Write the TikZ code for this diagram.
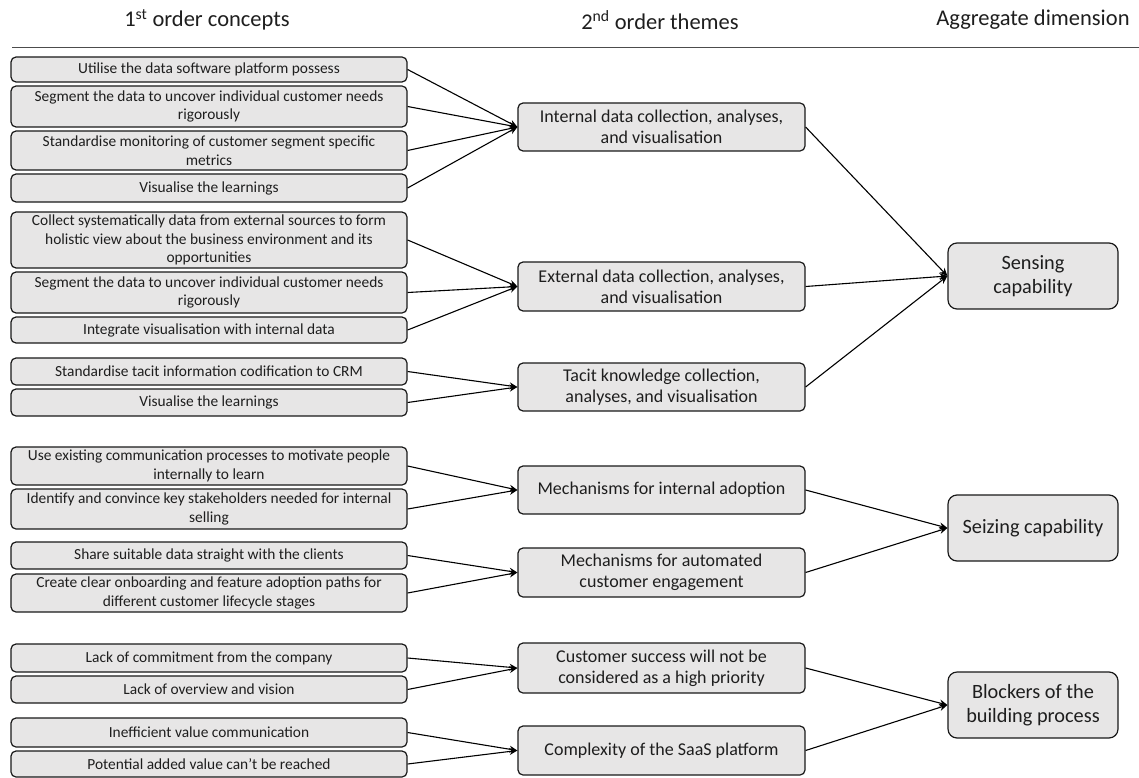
\documentclass[tikz,border=0pt]{standalone}
\usepackage{fontspec}
\setmainfont{Carlito}
\usetikzlibrary{arrows.meta}
\definecolor{boxfill}{HTML}{E7E6E6}
\definecolor{ink}{HTML}{1E1E1E}
\begin{document}
\begin{tikzpicture}[x=1pt,y=-1pt,
  base/.style={draw=black!90, line width=1.2pt, fill=boxfill, text=ink,
    align=center, inner sep=0pt, rounded corners=5pt},
  cbox/.style={base, minimum width=396pt, font=\fontsize{15.4}{18.5}\selectfont},
  tbox/.style={base, minimum width=287pt, font=\fontsize{18}{21}\selectfont},
  dbox/.style={base, minimum width=170pt, rounded corners=9pt,
    font=\fontsize{20.3}{23.5}\selectfont},
  head/.style={font=\fontsize{22.5}{25}\selectfont, text=ink},
  link/.style={line width=1.1pt, -{Stealth[length=8pt,width=7pt]}}]

\useasboundingbox (0,0) rectangle (1139,778);

% column headings and rule
\node[head] (h1) at (207,20) {1\textsuperscript{st} order concepts};
\node[head] (h2) at (660,20) {2\textsuperscript{nd} order themes};
\node[head] (h3) at (1033,20) {Aggregate dimension};
\draw[line width=1.3pt, black!70] (12,47.5) -- (1139,47.5);

% 1st order concepts
\node[cbox, minimum height=25pt] (c1) at (209,69.5) {Utilise the data software platform possess};
\node[cbox, minimum height=41pt] (c2) at (209,106.5) {Segment the data to uncover individual customer needs\\rigorously};
\node[cbox, minimum height=39pt] (c3) at (209,150.5) {Standardise monitoring of customer segment specific\\metrics};
\node[cbox, minimum height=28pt] (c4) at (209,188) {Visualise the learnings};
\node[cbox, minimum height=56pt] (c5) at (209,240) {Collect systematically data from external sources to form\\holistic view about the business environment and its\\opportunities};
\node[cbox, minimum height=41pt] (c6) at (209,292.5) {Segment the data to uncover individual customer needs\\rigorously};
\node[cbox, minimum height=26pt] (c7) at (209,330) {Integrate visualisation with internal data};
\node[cbox, minimum height=27pt] (c8) at (209,371.5) {Standardise tacit information codification to CRM};
\node[cbox, minimum height=27pt] (c9) at (209,402.5) {Visualise the learnings};
\node[cbox, minimum height=38pt] (c10) at (209,466) {Use existing communication processes to motivate people\\internally to learn};
\node[cbox, minimum height=40pt] (c11) at (209,509) {Identify and convince key stakeholders needed for internal\\selling};
\node[cbox, minimum height=27pt] (c12) at (209,555.5) {Share suitable data straight with the clients};
\node[cbox, minimum height=38pt] (c13) at (209,593) {Create clear onboarding and feature adoption paths for\\different customer lifecycle stages};
\node[cbox, minimum height=28pt] (c14) at (209,658) {Lack of commitment from the company};
\node[cbox, minimum height=27pt] (c15) at (209,689.5) {Lack of overview and vision};
\node[cbox, minimum height=29pt] (c16) at (209,732.5) {Inefficient value communication};
\node[cbox, minimum height=26pt] (c17) at (209,764) {Potential added value can’t be reached};

% 2nd order themes
\node[tbox, minimum height=48pt] (t1) at (661.5,127) {Internal data collection, analyses,\\and visualisation};
\node[tbox, minimum height=49pt] (t2) at (661.5,286.5) {External data collection, analyses,\\and visualisation};
\node[tbox, minimum height=48pt] (t3) at (661.5,387) {Tacit knowledge collection,\\analyses, and visualisation};
\node[tbox, minimum height=48pt] (t4) at (661.5,490) {Mechanisms for internal adoption};
\node[tbox, minimum height=49pt] (t5) at (661.5,572.5) {Mechanisms for automated\\customer engagement};
\node[tbox, minimum height=50pt] (t6) at (661.5,668) {Customer success will not be\\considered as a high priority};
\node[tbox, minimum height=49pt] (t7) at (661.5,750.5) {Complexity of the SaaS platform};

% aggregate dimensions
\node[dbox, minimum height=66pt] (d1) at (1033,276) {Sensing\\capability};
\node[dbox, minimum height=66pt] (d2) at (1033,528) {Seizing capability};
\node[dbox, minimum height=66pt] (d3) at (1033,705) {Blockers of the\\building process};

% concepts -> themes
\foreach \c in {c1,c2,c3,c4} \draw[link] (\c.east) -- (t1.west);
\foreach \c in {c5,c6,c7} \draw[link] (\c.east) -- (t2.west);
\foreach \c in {c8,c9} \draw[link] (\c.east) -- (t3.west);
\foreach \c in {c10,c11} \draw[link] (\c.east) -- (t4.west);
\foreach \c in {c12,c13} \draw[link] (\c.east) -- (t5.west);
\foreach \c in {c14,c15} \draw[link] (\c.east) -- (t6.west);
\foreach \c in {c16,c17} \draw[link] (\c.east) -- (t7.west);

% themes -> dimensions
\foreach \t in {t1,t2,t3} \draw[link] (\t.east) -- (d1.west);
\foreach \t in {t4,t5} \draw[link] (\t.east) -- (d2.west);
\foreach \t in {t6,t7} \draw[link] (\t.east) -- (d3.west);
\end{tikzpicture}
\end{document}
